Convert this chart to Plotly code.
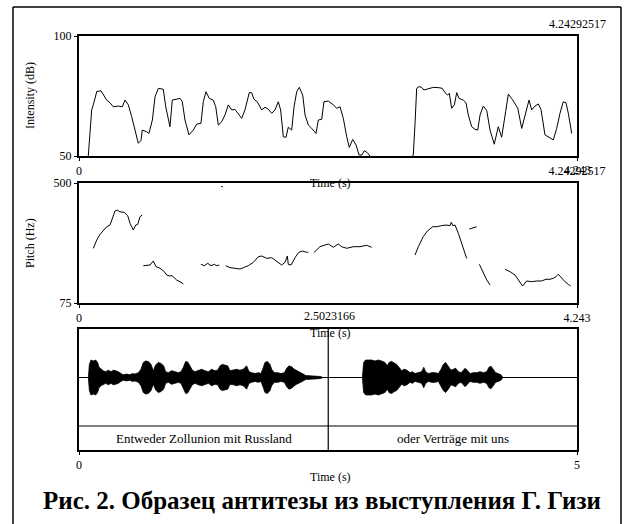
import plotly.graph_objects as go

# ---------------- data ----------------
T_END = 4.24292517

intensity_t = [0.079, 0.108, 0.122, 0.151, 0.187, 0.207, 0.236, 0.264, 0.292, 0.335, 0.369, 0.392,
               0.420, 0.449, 0.477, 0.505, 0.528, 0.539, 0.577, 0.596, 0.625, 0.648, 0.676, 0.718,
               0.739, 0.775, 0.795, 0.818, 0.861, 0.880, 0.903, 0.937, 0.974, 1.003, 1.039, 1.059,
               1.082, 1.110, 1.144, 1.165, 1.187, 1.216, 1.244, 1.272, 1.301, 1.329, 1.357, 1.386,
               1.414, 1.451, 1.471, 1.491, 1.519, 1.557, 1.585, 1.613, 1.642, 1.670, 1.698, 1.718,
               1.741, 1.764, 1.783, 1.812, 1.832, 1.855, 1.877, 1.906, 1.926, 1.954, 1.983, 2.019,
               2.039, 2.068, 2.087, 2.124, 2.167, 2.196, 2.224, 2.252, 2.281, 2.303, 2.332, 2.360,
               2.386, 2.409, 2.431, 2.456, 2.479, 2.600, 2.750, 2.848, 2.863, 2.877, 2.897, 2.920,
               2.939, 2.976, 3.019, 3.061, 3.095, 3.118, 3.141, 3.155, 3.175, 3.198, 3.218, 3.238,
               3.274, 3.297, 3.317, 3.346, 3.374, 3.397, 3.417, 3.445, 3.474, 3.502, 3.538, 3.572,
               3.601, 3.635, 3.658, 3.692, 3.738, 3.772, 3.806, 3.834, 3.857, 3.885, 3.913, 3.936,
               3.970, 4.004, 4.041, 4.070, 4.098, 4.126, 4.149, 4.169, 4.198]
intensity_db = [50.0, 69.2, 71.3, 76.8, 77.2, 75.4, 73.3, 72.2, 70.5, 70.8, 70.5, 73.3,
                71.3, 66.4, 60.8, 55.3, 56.5, 60.8, 60.1, 59.4, 65.0, 74.7, 78.2, 77.8,
                70.5, 62.2, 73.3, 73.6, 74.0, 72.6, 65.0, 58.8, 60.8, 63.3, 63.6, 72.6,
                76.8, 74.0, 73.3, 70.5, 62.9, 64.3, 67.1, 71.3, 69.2, 69.4, 67.8, 65.7,
                69.2, 76.4, 76.4, 73.6, 72.6, 69.2, 70.3, 69.5, 67.8, 69.2, 72.6, 69.2,
                58.0, 57.8, 62.0, 60.8, 70.5, 76.8, 78.6, 75.4, 67.1, 62.9, 61.5, 59.4,
                65.0, 65.3, 72.6, 72.9, 71.3, 69.9, 70.5, 65.7, 58.0, 53.6, 56.9, 54.6,
                50.4, 50.4, 52.2, 51.4, 50.0, 45.0, 45.0, 50.4, 63.6, 78.2, 78.9, 78.6,
                77.5, 78.1, 78.6, 78.5, 78.2, 76.4, 75.4, 76.1, 69.9, 71.3, 76.4, 74.0,
                73.3, 72.2, 67.1, 62.2, 61.1, 60.8, 67.1, 70.8, 68.9, 60.8, 54.9, 62.2,
                57.8, 68.5, 75.8, 73.6, 69.9, 61.5, 67.8, 73.3, 69.2, 70.8, 71.7, 69.4,
                58.8, 57.8, 56.7, 61.5, 67.8, 72.6, 72.2, 67.8, 59.4]

pitch_t = [0.122, 0.151, 0.179, 0.207, 0.236, 0.264, 0.284, 0.307, 0.326, 0.349, 0.386, 0.415,
           0.435, 0.463, 0.483, 0.500, 0.520, 0.539, None,
           0.548, 0.577, 0.605, 0.633, 0.656, 0.690, 0.727, 0.747, 0.775, 0.792, 0.832, 0.869, 0.889, None,
           1.039, 1.068, 1.097, 1.125, 1.153, 1.173, 1.195, None,
           1.210, 1.225, None,
           1.250, 1.287, 1.329, 1.372, 1.400, 1.442, 1.485, 1.528, 1.557, 1.599, 1.642, 1.670,
           1.698, 1.727, 1.755, 1.775, 1.783, 1.806, 1.826, 1.846, 1.874, 1.903, 1.940, 1.954, None,
           2.002, 2.053, 2.096, 2.124, 2.167, 2.209, 2.238, 2.281, 2.337, 2.394, 2.451, 2.494, None,
           2.863, 2.891, 2.933, 2.968, 3.014, 3.048, 3.090, 3.127, 3.161, 3.172, 3.184, 3.204,
           3.232, 3.261, 3.289, 3.303, None,
           3.325, 3.359, 3.388, None,
           3.411, 3.445, 3.474, 3.502, None,
           3.630, 3.672, 3.715, 3.743, 3.780, 3.814, 3.857, 3.900, 3.942, 3.979, 4.013, 4.041,
           4.064, 4.084, 4.113, 4.141, 4.169, 4.189]
pitch_hz = [268.6, 298, 318, 333.5, 345.3, 351, 375, 401, 404, 398, 396, 384,
            357, 333.5, 351, 353, 380.6, 386.7, None,
            207, 207, 209.6, 223.8, 203.6, 198, 186, 174, 170.6, 172, 156.5, 148.3, 142.3, None,
            212, 207, 215.6, 207, 212, 207, 209.6, None,
            487, 487, None,
            207, 200, 198, 195.4, 200, 207, 219, 239, 241.5, 233, 235.5, 227,
            219, 209.6, 219, 241.5, 212, 209.6, 223.8, 239, 254.6, 259, 254.6, 254.6, None,
            254, 274.4, 280.4, 284, 272.3, 284, 274.4, 268.7, 274.4, 274.4, 279.4, 272.3, None,
            245, 274.4, 310, 330, 345.3, 345.3, 349, 351, 349, 360.8, 349, 351,
            321.8, 286.4, 254.6, 233, None,
            337, 341.7, 345, None,
            212, 180, 156.5, 138.8, None,
            194.4, 186, 174, 156.5, 135.2, 153, 150.4, 153, 153, 159, 159, 162.5,
            168, 176.6, 162.5, 150.4, 141, 135.2]

wave_t = [0.094, 0.104, 0.120, 0.144, 0.167, 0.187, 0.201, 0.221, 0.244, 0.268, 0.295, 0.321,
          0.345, 0.368, 0.395, 0.422, 0.445, 0.479, 0.512, 0.535, 0.562, 0.596, 0.622, 0.646,
          0.669, 0.696, 0.723, 0.746, 0.770, 0.797, 0.823, 0.850, 0.870, 0.897, 0.930, 0.964,
          0.997, 1.024, 1.048, 1.071, 1.091, 1.114, 1.138, 1.165, 1.198, 1.232, 1.265, 1.299,
          1.332, 1.365, 1.392, 1.416, 1.439, 1.466, 1.493, 1.516, 1.550, 1.583, 1.616, 1.650,
          1.683, 1.707, 1.734, 1.767, 1.801, 1.827, 1.851, 1.867, 1.891, 1.918, 1.934, 1.961,
          1.995, 2.028, 2.062, 2.085, 2.108, 2.135, 2.162, 2.185, 2.219, 2.252, 2.276, 2.319,
          2.369, 2.430, 2.443, 2.845, 2.858, 2.878, 2.905, 2.938, 2.972, 3.005, 3.039, 3.072,
          3.096, 3.112, 3.139, 3.166, 3.189, 3.213, 3.240, 3.266, 3.293, 3.323, 3.347, 3.373,
          3.407, 3.440, 3.461, 3.481, 3.507, 3.541, 3.574, 3.608, 3.635, 3.658, 3.681, 3.708,
          3.735, 3.758, 3.782, 3.809, 3.835, 3.859, 3.876, 3.902, 3.926, 3.959, 3.993, 4.026,
          4.060, 4.093, 4.116, 4.137, 4.160, 4.183, 4.210, 4.237, 4.254]
wave_amp = [0.0, 0.27, 0.36, 0.34, 0.36, 0.31, 0.21, 0.17, 0.14, 0.12, 0.15, 0.12,
            0.15, 0.14, 0.12, 0.08, 0.055, 0.07, 0.055, 0.08, 0.07, 0.10, 0.17, 0.31,
            0.34, 0.33, 0.27, 0.14, 0.26, 0.31, 0.29, 0.24, 0.12, 0.10, 0.14, 0.12,
            0.10, 0.12, 0.21, 0.33, 0.32, 0.24, 0.15, 0.12, 0.15, 0.17, 0.14, 0.12,
            0.17, 0.14, 0.15, 0.24, 0.27, 0.26, 0.24, 0.14, 0.15, 0.17, 0.15, 0.17,
            0.24, 0.12, 0.10, 0.08, 0.10, 0.08, 0.21, 0.31, 0.33, 0.27, 0.17, 0.10,
            0.10, 0.08, 0.10, 0.19, 0.24, 0.22, 0.17, 0.14, 0.10, 0.07, 0.04, 0.03,
            0.03, 0.02, 0.0, 0.0, 0.31, 0.36, 0.36, 0.36, 0.34, 0.36, 0.34, 0.31,
            0.24, 0.31, 0.33, 0.29, 0.27, 0.21, 0.14, 0.17, 0.15, 0.10, 0.12, 0.08,
            0.10, 0.12, 0.21, 0.12, 0.08, 0.10, 0.10, 0.08, 0.17, 0.27, 0.31, 0.24,
            0.15, 0.17, 0.19, 0.12, 0.10, 0.15, 0.19, 0.14, 0.08, 0.10, 0.10, 0.12,
            0.10, 0.12, 0.21, 0.23, 0.17, 0.10, 0.08, 0.055, 0.0]

tier_bounds = [0.0, 2.5023166, 5.0]
tier_labels = ["Entweder Zollunion mit Russland", "oder Verträge mit uns"]

caption = "Рис. 2. Образец антитезы из выступления Г. Гизи"

# ---------------- figure ----------------
W, H = 628, 524
SERIF = "Times New Roman, Liberation Serif, serif"


def px(x):
    return x / W


def py(y):
    return 1 - y / H


fig = go.Figure()

fig.add_trace(go.Scatter(x=intensity_t, y=intensity_db, mode="lines",
                         line=dict(color="black", width=1), xaxis="x", yaxis="y",
                         hoverinfo="skip"))
fig.add_trace(go.Scatter(x=pitch_t, y=pitch_hz, mode="lines", connectgaps=False,
                         line=dict(color="black", width=1), xaxis="x2", yaxis="y2",
                         hoverinfo="skip"))
env_x = wave_t + wave_t[::-1]
env_y = wave_amp + [-a for a in wave_amp[::-1]]
fig.add_trace(go.Scatter(x=env_x, y=env_y, mode="lines", fill="toself",
                         fillcolor="black", line=dict(color="black", width=0.8),
                         xaxis="x3", yaxis="y3", hoverinfo="skip"))

xdom = [px(79), px(577)]
tickfont = dict(family=SERIF, size=12, color="black")
common = dict(showline=True, mirror=True, linecolor="black", linewidth=2,
              showgrid=False, zeroline=False, ticks="outside", ticklen=3,
              tickcolor="black", tickwidth=1, tickfont=tickfont, fixedrange=True,
              automargin=False)

fig.update_layout(
    template="none",
    width=W, height=H,
    autosize=False,
    font=dict(family=SERIF, color="black"),
    margin=dict(l=0, r=0, t=0, b=0, pad=0),
    paper_bgcolor="white", plot_bgcolor="white",
    showlegend=False,
    xaxis=dict(domain=xdom, range=[0, T_END], anchor="y",
               tickvals=[0, T_END], ticktext=["0", "4.24292517"], **common),
    yaxis=dict(domain=[py(156), py(36)], range=[50, 100], anchor="x",
               tickvals=[50, 100], ticktext=["50", "100"], **common),
    xaxis2=dict(domain=xdom, range=[0, T_END], anchor="y2",
                tickvals=[0, T_END], ticktext=["0", "4.243"], **common),
    yaxis2=dict(domain=[py(303), py(183)], range=[75, 500], anchor="x2",
                tickvals=[75, 500], ticktext=["75", "500"], **common),
    xaxis3=dict(domain=xdom, range=[0, 5], anchor="y3",
                tickvals=[0, 5], ticktext=["0", "5"], **common),
    yaxis3=dict(domain=[py(450), py(329)], range=[-1.495, 1], anchor="x3",
                showline=True, mirror=True, linecolor="black", linewidth=2,
                showgrid=False, zeroline=True, zerolinecolor="black", zerolinewidth=1,
                showticklabels=False, ticks="", fixedrange=True, automargin=False),
)

shapes = [
    # outer frame (left, top, right edges; bottom edge runs off the page)
    dict(type="line", xref="paper", yref="paper", x0=px(13), x1=px(13),
         y0=py(530), y1=py(7), line=dict(color="black", width=1.5)),
    dict(type="line", xref="paper", yref="paper", x0=px(13), x1=px(621),
         y0=py(7), y1=py(7), line=dict(color="black", width=1.5)),
    dict(type="line", xref="paper", yref="paper", x0=px(621), x1=px(621),
         y0=py(530), y1=py(7), line=dict(color="black", width=1.5)),
    # tier divider
    dict(type="line", xref="x3 domain", yref="y3", x0=0, x1=1, y0=-1, y1=-1,
         line=dict(color="black", width=1)),
    # interval boundary
    dict(type="line", xref="x3", yref="y3 domain", x0=tier_bounds[1], x1=tier_bounds[1],
         y0=0, y1=1, line=dict(color="black", width=1.2)),
]
fig.update_layout(shapes=shapes)

ann = []


def txt(x, y, s, size=12, angle=0, xanchor="center"):
    ann.append(dict(xref="paper", yref="paper", x=px(x), y=py(y), text=s,
                    showarrow=False, xanchor=xanchor, yanchor="middle", textangle=angle,
                    font=dict(family=SERIF, size=size, color="black")))


txt(577, 24, "4.24292517")
txt(577, 170, "4.243")
txt(330, 183, "Time (s)")
txt(330, 333, "Time (s)")
txt(330, 477, "Time (s)")
txt(329, 316, f"{tier_bounds[1]:.7f}")
txt(30, 96, "Intensity (dB)", angle=-90)
txt(30, 243, "Pitch (Hz)", angle=-90)

for i, lab in enumerate(tier_labels):
    mid = (tier_bounds[i] + tier_bounds[i + 1]) / 2
    ann.append(dict(xref="x3", yref="y3", x=mid, y=-1.2475, text=lab, showarrow=False,
                    xanchor="center", yanchor="middle",
                    font=dict(family=SERIF, size=13, color="black")))

ann.append(dict(xref="paper", yref="paper", x=px(322), y=py(500), text="<b>" + caption + "</b>",
                showarrow=False, xanchor="center", yanchor="middle",
                font=dict(family=SERIF, size=25, color="black")))

fig.update_layout(annotations=ann)

post = ("document.documentElement.style.margin='0';document.body.style.margin='0';"
        "document.body.style.padding='0';document.body.style.overflow='hidden';")
fig.write_html("out.html", config={"displayModeBar": False, "responsive": False},
               post_script=post)
